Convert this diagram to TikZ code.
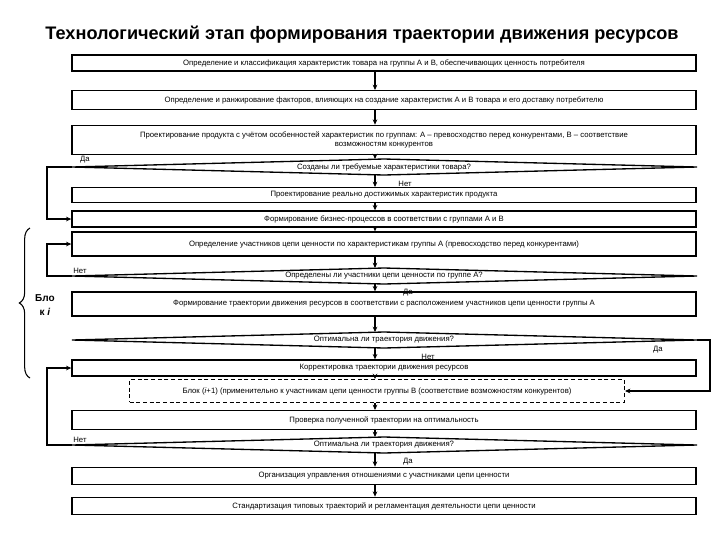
\documentclass[tikz,border=0pt]{standalone}
\usepackage{fontspec}
\setmainfont{Liberation Sans}
\usetikzlibrary{arrows.meta,decorations.pathreplacing}
\begin{document}
\begin{tikzpicture}[x=0.75pt,y=-0.75pt,
  box/.style={draw,line width=1pt,minimum width=468pt,inner sep=1pt,font=\fontsize{5.8}{6.6}\selectfont,align=center},
  dbox/.style={box,densely dashed,minimum width=371pt},
  dia/.style={draw,line width=1pt},
  lab/.style={font=\fontsize{5.8}{6.6}\selectfont,inner sep=0.5pt},
  arr/.style={line width=1pt,-{Stealth[length=4pt,width=3.5pt]}}]
\useasboundingbox (0,0) rectangle (720,540);
\node[font=\bfseries\fontsize{13.6}{16}\selectfont] (title) at (362,35) {Технологический этап формирования траектории движения ресурсов};
\node[box,minimum height=12pt] (b1) at (384,63) {Определение и классификация характеристик товара на группы А и В, обеспечивающих ценность потребителя};
\node[box,minimum height=14pt] (b2) at (384,100) {Определение и ранжирование факторов, влияющих на создание характеристик А и В товара и его доставку потребителю};
\node[box,minimum height=22pt] (b3) at (384,140) {Проектирование продукта с учётом особенностей характеристик по группам: А -- превосходство перед конкурентами, В -- соответствие\\возможностям конкурентов};
% diamond 1
\coordinate (d1l) at (72,167); \coordinate (d1r) at (697,167);
\draw[dia] (d1l) -- (384,159) -- (d1r) -- (384,175) -- cycle;
\node[lab] (d1) at (384,167) {Созданы ли требуемые характеристики товара?};
\node[box,minimum height=11pt] (b4) at (384,195) {Проектирование реально достижимых характеристик продукта};
\node[box,minimum height=12pt] (b5) at (384,219) {Формирование бизнес-процессов в соответствии с группами А и В};
\node[box,minimum height=18pt] (b6) at (384,244) {Определение участников цепи ценности по характеристикам группы А (превосходство перед конкурентами)};
\coordinate (d2l) at (72,276); \coordinate (d2r) at (697,276);
\draw[dia] (d2l) -- (384,268) -- (d2r) -- (384,284) -- cycle;
\node[lab] (d2) at (384,276) {Определены ли участники цепи ценности по группе А?};
\node[box,minimum height=18pt] (b7) at (384,304) {Формирование траектории движения ресурсов в соответствии с расположением участников цепи ценности группы А};
\coordinate (d3l) at (72,340); \coordinate (d3r) at (697,340);
\draw[dia] (d3l) -- (384,332) -- (d3r) -- (384,348) -- cycle;
\node[lab] (d3) at (384,340) {Оптимальна ли траектория движения?};
\node[box,minimum height=12pt] (b8) at (384,368) {Корректировка траектории движения ресурсов};
\node[dbox,minimum height=17pt] (b9) at (377,391) {Блок (\textit{i}+1) (применительно к участникам цепи ценности группы В (соответствие возможностям конкурентов)};
\node[box,minimum height=14pt] (b10) at (384,420) {Проверка полученной траектории на оптимальность};
\coordinate (d4l) at (72,445); \coordinate (d4r) at (697,445);
\draw[dia] (d4l) -- (384,437) -- (d4r) -- (384,453) -- cycle;
\node[lab] (d4) at (384,445) {Оптимальна ли траектория движения?};
\node[box,minimum height=13pt] (b11) at (384,476) {Организация управления отношениями с участниками цепи ценности};
\node[box,minimum height=13pt] (b12) at (384,506) {Стандартизация типовых траекторий и регламентация деятельности цепи ценности};
% vertical arrows
\coordinate (cx) at (375,0);
\draw[arr] (b1.south -| cx) -- (b2.north -| cx);
\draw[arr] (b2.south -| cx) -- (b3.north -| cx);
\draw[arr] (b3.south -| cx) -- (375,159);
\draw[arr] (375,175) -- (b4.north -| cx);
\draw[arr] (b4.south -| cx) -- (b5.north -| cx);
\draw[arr] (b5.south -| cx) -- (b6.north -| cx);
\draw[arr] (b6.south -| cx) -- (375,268);
\draw[arr] (375,284) -- (b7.north -| cx);
\draw[arr] (b7.south -| cx) -- (375,332);
\draw[arr] (375,348) -- (b8.north -| cx);
\draw[arr] (b8.south -| cx) -- (b9.north -| cx);
\draw[arr] (b9.south -| cx) -- (b10.north -| cx);
\draw[arr] (b10.south -| cx) -- (375,437);
\draw[arr] (375,453) -- (b11.north -| cx);
\draw[arr] (b11.south -| cx) -- (b12.north -| cx);
% side loops
\draw[arr] (d1l) -- (47,167) |- (b5.west);
\draw[arr] (d2l) -- (47,276) |- (b6.west);
\draw[arr] (d3r) -- (710,340) |- (b9.east);
\draw[arr] (d4l) -- (47,445) |- (b8.west);
% labels
\node[lab] (l1) at (85,160) {Да};
\node[lab] (l2) at (405,184) {Нет};
\node[lab] (l3) at (80,271) {Нет};
\node[lab] (l4) at (408,293) {Да};
\node[lab] (l5) at (658,350) {Да};
\node[lab] (l6) at (428,357) {Нет};
\node[lab] (l7) at (80,440) {Нет};
\node[lab] (l8) at (408,462) {Да};
% brace
\draw[line width=0.8pt,decorate,decoration={brace,amplitude=8pt,mirror}] (30,228) -- (30,378);
\node[font=\bfseries\fontsize{7.5}{10}\selectfont,align=center] (blk) at (45,305) {Бло\\к \textit{i}};
\end{tikzpicture}
\end{document}
